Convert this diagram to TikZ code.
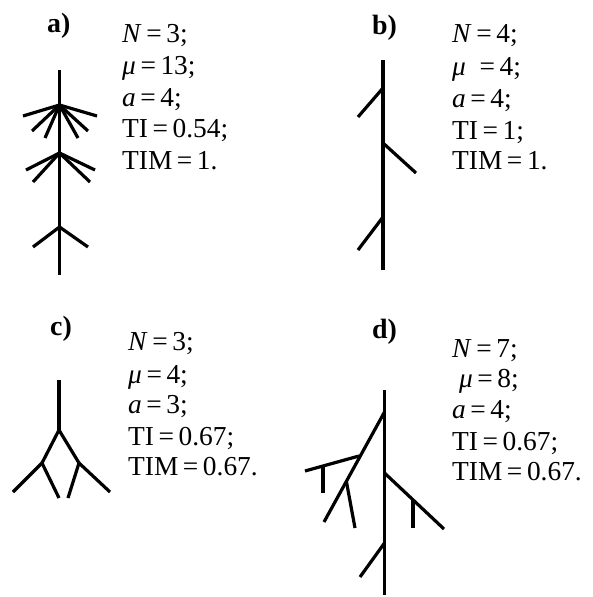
\documentclass[tikz,border=0pt]{standalone}
\usepackage{fontspec}
\setmainfont{Liberation Serif}
\begin{document}
\begin{tikzpicture}[x=1bp,y=-1bp,
  br/.style={line width=3.2bp},
  info/.style={anchor=base west,inner sep=0pt,font=\fontsize{27.5}{32}\selectfont},
  lbl/.style={anchor=base west,inner sep=0pt,font=\fontsize{28}{32}\selectfont\bfseries}]
\useasboundingbox[fill=white] (0,0) rectangle (593,597);
% ---------- panel a ----------
\node[lbl] (la) at (47,33) {a)};
\node[info] (a1) at (122,43) {\textit{N}\,=\,3;};
\node[info] (a2) at (122,75) {\textit{μ}\,=\,13;};
\node[info] (a3) at (122,107) {\textit{a}\,=\,4;};
\node[info] (a4) at (122,138) {TI\,=\,0.54;};
\node[info] (a5) at (122,170) {TIM\,=\,1.};
\coordinate (A0) at (59.5,70);
\coordinate (A1) at (59.5,105);
\coordinate (A2) at (59.5,153);
\coordinate (A3) at (59.5,227);
\coordinate (A4) at (59.5,275);
\coordinate (a11) at (23,116);
\coordinate (a12) at (32,131);
\coordinate (a13) at (45,138);
\coordinate (a14) at (78,138);
\coordinate (a15) at (88,131);
\coordinate (a16) at (97,116);
\coordinate (a21) at (26,170);
\coordinate (a22) at (33,182);
\coordinate (a23) at (95,170);
\coordinate (a24) at (90,182);
\coordinate (a31) at (33,247);
\coordinate (a32) at (88,247);
\draw[br] (A0) -- (A4);
\foreach \e in {a11,a12,a13,a14,a15,a16} \draw[br] (A1) -- (\e);
\foreach \e in {a21,a22,a23,a24} \draw[br] (A2) -- (\e);
\foreach \e in {a31,a32} \draw[br] (A3) -- (\e);
% ---------- panel b ----------
\node[lbl] (lb) at (372,35) {b)};
\node[info] (b1) at (452,43) {\textit{N}\,=\,4;};
\node[info] (b2) at (452,76) {\textit{μ}\ \ =\,4;};
\node[info] (b3) at (452,108) {\textit{a}\,=\,4;};
\node[info] (b4) at (452,140) {TI\,=\,1;};
\node[info] (b5) at (452,170) {TIM\,=\,1.};
\coordinate (B0) at (383,60);
\coordinate (B1) at (383,88);
\coordinate (B2) at (383,143);
\coordinate (B3) at (383,217);
\coordinate (B4) at (383,270);
\coordinate (b11) at (358,117);
\coordinate (b21) at (416,173);
\coordinate (b31) at (358,250);
\draw[br] (B0) -- (B4);
\draw[br] (B1) -- (b11);
\draw[br] (B2) -- (b21);
\draw[br] (B3) -- (b31);
% ---------- panel c ----------
\node[lbl] (lc) at (50,335) {c)};
\node[info] (c1) at (128,350) {\textit{N}\,=\,3;};
\node[info] (c2) at (128,383) {\textit{μ}\,=\,4;};
\node[info] (c3) at (128,413) {\textit{a}\,=\,3;};
\node[info] (c4) at (128,445) {TI\,=\,0.67;};
\node[info] (c5) at (128,475) {TIM\,=\,0.67.};
\coordinate (C0) at (59,380);
\coordinate (C1) at (59,430);
\coordinate (CL) at (42,463);
\coordinate (CR) at (79,463);
\coordinate (cl1) at (13,492);
\coordinate (cl2) at (59,498);
\coordinate (cr1) at (68,498);
\coordinate (cr2) at (110,492);
\draw[br] (C0) -- (C1);
\draw[br] (C1) -- (CL);
\draw[br] (C1) -- (CR);
\draw[br] (CL) -- (cl1);
\draw[br] (CL) -- (cl2);
\draw[br] (CR) -- (cr1);
\draw[br] (CR) -- (cr2);
% ---------- panel d ----------
\node[lbl] (ld) at (372,338) {d)};
\node[info] (d1) at (452,357) {\textit{N}\,=\,7;};
\node[info] (d2) at (452,387) {\ \textit{μ}\,=\,8;};
\node[info] (d3) at (452,418) {\textit{a}\,=\,4;};
\node[info] (d4) at (452,450) {TI\,=\,0.67;};
\node[info] (d5) at (452,480) {TIM\,=\,0.67.};
\coordinate (D0) at (384.5,390);
\coordinate (D1) at (384.5,412);
\coordinate (D2) at (384.5,473);
\coordinate (D3) at (384.5,543);
\coordinate (D4) at (384.5,595);
\coordinate (dA) at (324,522);
\coordinate (dA1) at (359,456);
\coordinate (dA1e) at (305,471);
\coordinate (dA1s) at (323,466);
\coordinate (dA1t) at (323,493);
\coordinate (dA2) at (346.5,482);
\coordinate (dA2e) at (355,528);
\coordinate (dB) at (444,529);
\coordinate (dBs) at (413,500);
\coordinate (dBt) at (413,528);
\coordinate (dC) at (360,577);
\draw[br] (D0) -- (D4);
\draw[br] (D1) -- (dA);
\draw[br] (dA1) -- (dA1e);
\draw[br] (dA1s) -- (dA1t);
\draw[br] (dA2) -- (dA2e);
\draw[br] (D2) -- (dB);
\draw[br] (dBs) -- (dBt);
\draw[br] (D3) -- (dC);
\end{tikzpicture}
\end{document}
